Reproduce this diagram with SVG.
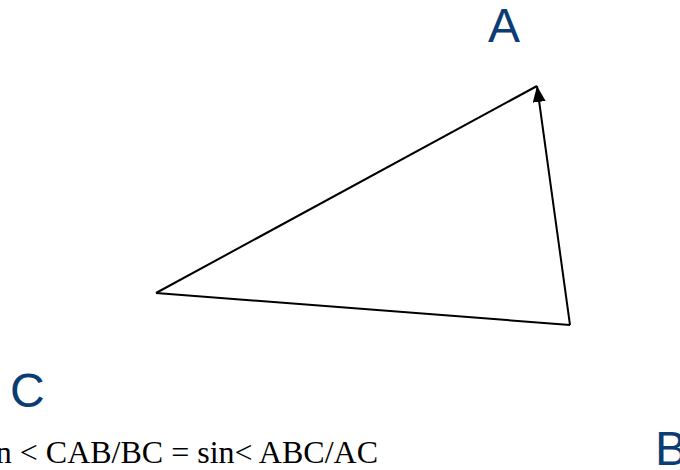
<svg xmlns="http://www.w3.org/2000/svg" width="680" height="470" viewBox="0 0 680 470">
<style>
.lbl{font-family:"Liberation Sans",Arial,sans-serif;font-size:48px;fill:#0a3d73}
.eq{font-family:"Liberation Serif","Times New Roman",serif;font-size:32px;fill:#000}
.edge{stroke:#000;stroke-width:2;fill:none}
</style>
<defs>
<marker id="arr" viewBox="0 0 16 13" refX="16" refY="6.5" markerWidth="8" markerHeight="6.5" markerUnits="strokeWidth" orient="auto">
<path d="M0,0 L16,6.5 L0,13 z" fill="#000"/>
</marker>
</defs>
<rect width="680" height="470" fill="#fff"/>
<g id="connectors">
<path class="edge" d="M156,293 L537,86"/>
<path class="edge" d="M156,293 L570,325"/>
<path class="edge" d="M570,325 L537,86" marker-end="url(#arr)"/>
</g>
<g id="nodeA"><text class="lbl" x="488" y="42">A</text></g>
<g id="nodeC"><text class="lbl" x="10" y="407">C</text></g>
<g id="nodeB"><text class="lbl" x="655" y="465">B</text></g>
<g id="equation"><text class="eq" x="378" y="463" text-anchor="end">sin &lt; CAB/BC = sin&lt; ABC/AC</text></g>
</svg>
